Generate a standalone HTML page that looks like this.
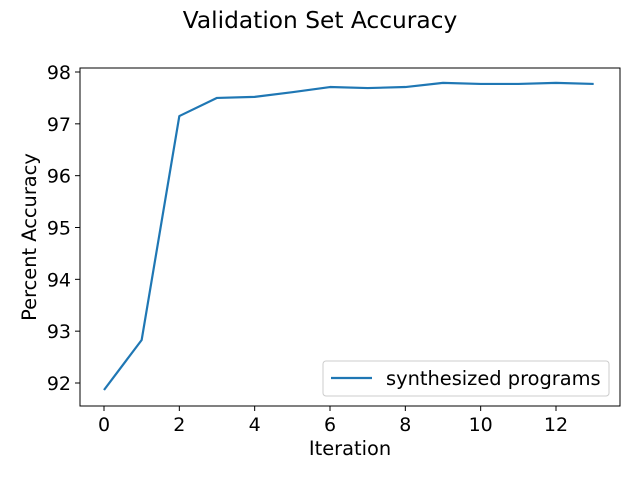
<!DOCTYPE html>
<html><head><meta charset="utf-8"><style>
body{margin:0;background:#fff;}
svg{display:block;font-family:"DejaVu Sans","Liberation Sans",sans-serif;}
</style></head><body>
<svg id="chart" width="640" height="480">
<rect width="640" height="480" fill="#fff"/>
<text x="320" y="28" text-anchor="middle" font-size="23.3" fill="#000">Validation Set Accuracy</text>
<g id="ticks"></g>
<path id="line" fill="none" stroke="#1f77b4" stroke-width="2.2" stroke-linejoin="round"/>
<rect x="80" y="68" width="540" height="338" fill="none" stroke="#000" stroke-width="1"/>
<text x="350" y="455" text-anchor="middle" font-size="19.4">Iteration</text>
<text transform="translate(36,237) rotate(-90)" text-anchor="middle" font-size="19.4">Percent Accuracy</text>
<g>
<rect x="323" y="361" width="286" height="35" rx="3" fill="#fff" stroke="#ccc"/>
<line x1="331" y1="378" x2="372" y2="378" stroke="#1f77b4" stroke-width="2.2"/>
<text x="386" y="385" font-size="19.4">synthesized programs</text>
</g>
</svg>
<script>
const iterations=[0,1,2,3,4,5,6,7,8,9,10,11,12,13];
const accuracy=[91.865,92.83,97.15,97.50,97.52,97.61,97.71,97.69,97.71,97.79,97.77,97.77,97.79,97.77];
const xTicks=[0,2,4,6,8,10,12];
const yTicks=[92,93,94,95,96,97,98];
function sx(v){return 104+v*(556-104)/12;}
function sy(v){return 383-(v-92)*(383-72)/6;}
const ns="http://www.w3.org/2000/svg";
const g=document.getElementById('ticks');
xTicks.forEach(t=>{
 const l=document.createElementNS(ns,'line');
 l.setAttribute('x1',sx(t));l.setAttribute('x2',sx(t));l.setAttribute('y1',406);l.setAttribute('y2',411);l.setAttribute('stroke','#000');
 
 
 g.appendChild(l);
 const tx=document.createElementNS(ns,'text');
 tx.setAttribute('x',sx(t));tx.setAttribute('y',431);tx.setAttribute('text-anchor','middle');tx.setAttribute('font-size','19');
 tx.textContent=t;
 
 
 g.appendChild(tx);
});
yTicks.forEach(t=>{
 const l=document.createElementNS(ns,'line');
 l.setAttribute('x1',75);l.setAttribute('x2',80);l.setAttribute('y1',sy(t));l.setAttribute('y2',sy(t));l.setAttribute('stroke','#000');
 
 
 g.appendChild(l);
 const tx=document.createElementNS(ns,'text');
 tx.setAttribute('x',71);tx.setAttribute('y',sy(t)+7);tx.setAttribute('text-anchor','end');tx.setAttribute('font-size','19');
 tx.textContent=t;
 
 
 g.appendChild(tx);
});
document.getElementById('line').setAttribute('d',iterations.map((x,i)=>(i?'L':'M')+sx(x)+','+sy(accuracy[i])).join(' '));
</script>
</body></html>
